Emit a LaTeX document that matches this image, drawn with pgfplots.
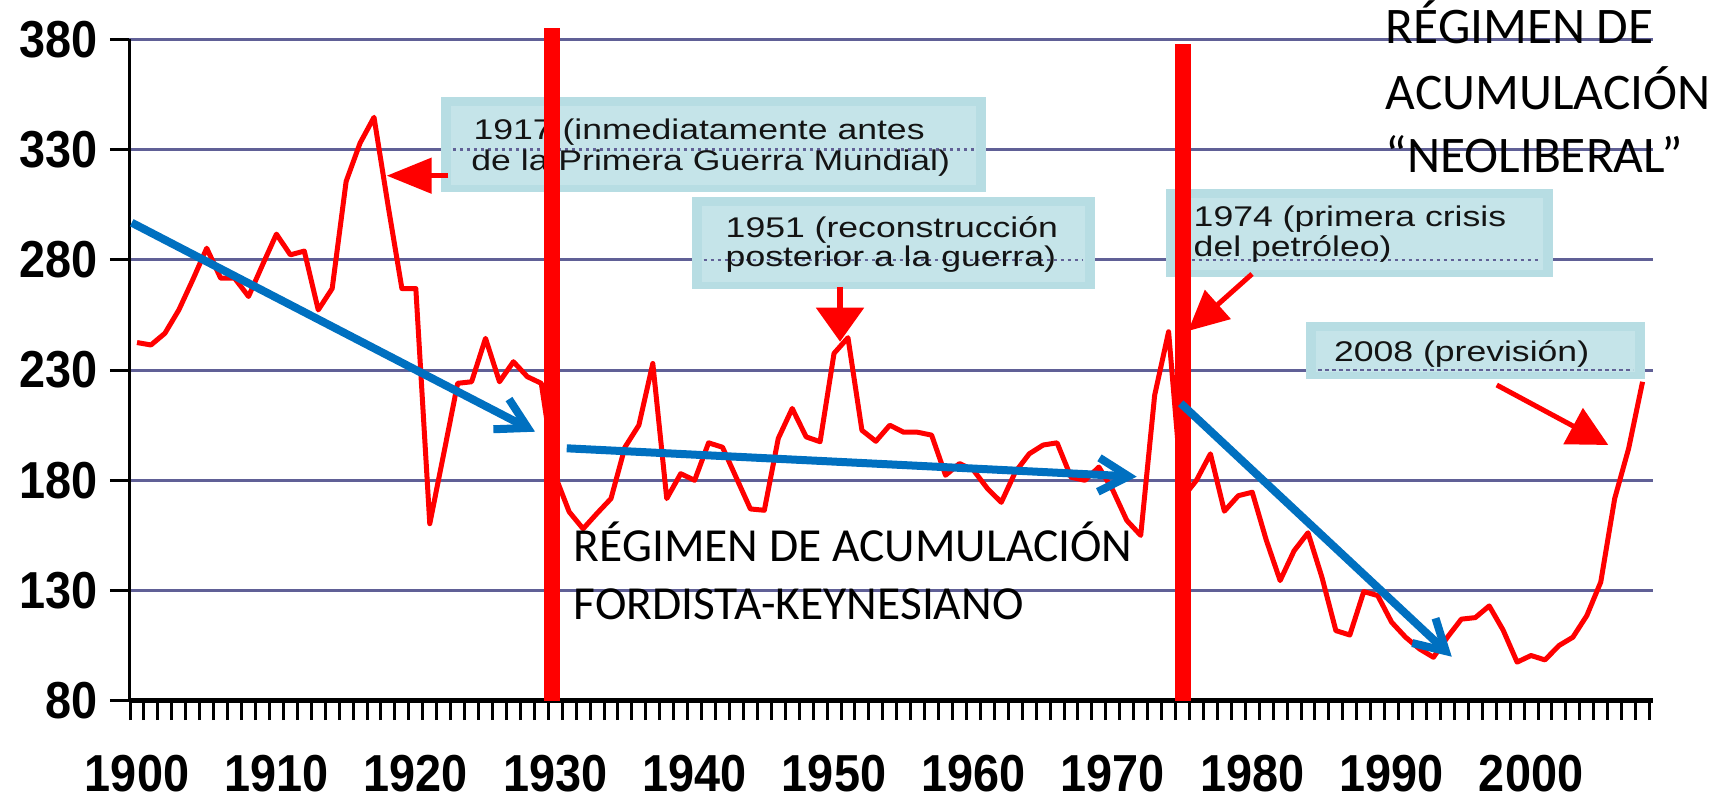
\documentclass[border=0pt]{standalone}
\usepackage{fontspec}
\usepackage{pgfplots}
\pgfplotsset{compat=1.18}
\usetikzlibrary{arrows.meta}
\setmainfont{Liberation Sans}
\newfontfamily\tickfont[FakeStretch=0.9]{Liberation Sans}
\newfontfamily\annfont[FakeStretch=1.25]{Liberation Sans}
\newfontfamily\bigfont{Carlito}
\definecolor{gridc}{RGB}{96,96,150}
\definecolor{arrowblue}{RGB}{0,112,192}
\definecolor{boxout}{RGB}{183,221,227}
\definecolor{boxin}{RGB}{197,228,233}
\newcommand\PX[1]{1900+(#1-137)/13.94}
\newcommand\PY[1]{380-(#1-39.5)/2.204}
\newcommand\annbox[5]{%
  \fill[boxout] (axis cs:{\PX{#1}},{\PY{#2}}) rectangle (axis cs:{\PX{#3}},{\PY{#4}});
  \fill[boxin] (axis cs:{\PX{#1+10}},{\PY{#2+9}}) rectangle (axis cs:{\PX{#3-10}},{\PY{#4-7}});
  \draw[gridc, line width=0.25mm, dash pattern=on 0.35mm off 0.35mm] (axis cs:{\PX{#1+12}},#5) -- (axis cs:{\PX{#3-12}},#5);
}
\begin{document}
\begin{tikzpicture}
\useasboundingbox (0,0) rectangle (172.1mm,80mm);
\begin{axis}[
  at={(12.95mm,9.93mm)}, anchor=south west,
  scale only axis, width=152.35mm, height=66.12mm,
  xmin=1899.46, xmax=2008.75, ymin=80, ymax=380,
  axis x line*=bottom, axis y line*=left,
  x axis line style={line width=0.45mm, black, -},
  y axis line style={line width=0.3mm, black, -},
  ytick={80,130,...,380},
  ymajorgrids, grid style={gridc, line width=0.3mm},
  tick align=outside,
  major tick length=1.95mm,
  ytick style={line width=0.3mm, black},
  xtick={1899.5,1900.5,...,2008.5},
  xticklabels={},
  xtick style={line width=0.3mm, black},
  extra x ticks={1900,1910,...,2000},
  extra x tick labels={1900,1910,1920,1930,1940,1950,1960,1970,1980,1990,2000},
  extra x tick style={tick style={draw=none}, grid=none, xticklabel style={yshift=-2.3mm}},
  ticklabel style={font=\tickfont\bfseries\fontsize{14.8}{14.8}\selectfont},
  /pgf/number format/assume math mode=true,
  clip=false,
]
% data series
\addplot[red, line width=0.5mm, line join=round, mark=none] coordinates {
(1900,242.5) (1901,241.4) (1902,246.7) (1903,257.3) (1904,271) (1905,285.3)
(1906,271.7) (1907,271.7) (1908,263.4) (1909,277.7) (1910,291.7) (1911,282.3)
(1912,284) (1913,257.3) (1914,267) (1915,315.6) (1916,333) (1917,344.7)
(1918,305) (1919,267) (1920,267) (1921,160.3) (1922,192) (1923,224)
(1924,224.7) (1925,244.4) (1926,224.7) (1927,233.8) (1928,227) (1929,224)
(1930,182) (1931,165.7) (1932,158) (1933,165) (1934,171.7) (1935,195)
(1936,205) (1937,233) (1938,171.7) (1939,183) (1940,180) (1941,197)
(1942,195) (1943,181) (1944,167) (1945,166.4) (1946,199) (1947,212.6)
(1948,199.7) (1949,197.5) (1950,237.6) (1951,244.7) (1952,202.7) (1953,197.7)
(1954,205) (1955,201.8) (1956,201.8) (1957,200.5) (1958,182.3) (1959,187.6)
(1960,184.6) (1961,176.3) (1962,170) (1963,183.7) (1964,192) (1965,196)
(1966,197) (1967,181.4) (1968,180) (1969,186) (1970,175.5) (1971,161.8)
(1972,155) (1973,218.6) (1974,247.4) (1975,172) (1976,180) (1977,192)
(1978,166) (1979,173) (1980,174.6) (1981,153) (1982,134.5) (1983,148)
(1984,156.2) (1985,136) (1986,111.8) (1987,109.8) (1988,129.5) (1989,127.7)
(1990,115.6) (1991,108.8) (1992,103.5) (1993,99.7) (1994,108.8) (1995,117)
(1996,117.7) (1997,123) (1998,112) (1999,97.5) (2000,100.5) (2001,98.5)
(2002,105) (2003,108.8) (2004,118.6) (2005,133.8) (2006,171.7) (2007,194.4)
(2008,224.7)};
% annotation boxes
\annbox{440.9}{97.3}{986.2}{191.7}{330}
\annbox{691.7}{196.7}{1095}{289.3}{280}
\annbox{1165.6}{188.8}{1553}{276.6}{280}
\annbox{1306}{321.6}{1645}{379.3}{230}
\begin{scope}[every node/.style={anchor=base west, inner sep=0pt, text=black!92, font=\annfont\fontsize{8.1}{8.1}\selectfont}]
\node at (axis cs:{\PX{472.9}},{\PY{139.5}}) {1917 (inmediatamente antes};
\node at (axis cs:{\PX{470.7}},{\PY{171}}) {de la Primera Guerra Mundial)};
\node at (axis cs:{\PX{725}},{\PY{237.5}}) {1951 (reconstrucción};
\node at (axis cs:{\PX{725}},{\PY{267}}) {posterior a la guerra)};
\node at (axis cs:{\PX{1193}},{\PY{227}}) {1974 (primera crisis};
\node at (axis cs:{\PX{1193}},{\PY{257}}) {del petróleo)};
\node at (axis cs:{\PX{1333.3}},{\PY{362}}) {2008 (previsión)};
\end{scope}
\begin{scope}[every node/.style={anchor=base west, inner sep=0pt, text=black}]
\node[font=\bigfont\fontsize{13.5}{13.5}\selectfont] at (axis cs:{\PX{573}},{\PY{561.7}}) {RÉGIMEN DE ACUMULACIÓN};
\node[font=\bigfont\fontsize{13.5}{13.5}\selectfont] at (axis cs:{\PX{573}},{\PY{620}}) {FORDISTA-KEYNESIANO};
\node[font=\bigfont\fontsize{14.6}{14.6}\selectfont] at (axis cs:{\PX{1385}},{\PY{43.9}}) {RÉGIMEN DE};
\node[font=\bigfont\fontsize{14.6}{14.6}\selectfont] at (axis cs:{\PX{1385}},{\PY{109.8}}) {ACUMULACIÓN};
\node[font=\bigfont\fontsize{14.6}{14.6}\selectfont] at (axis cs:{\PX{1385}},{\PY{172.3}}) {“NEOLIBERAL”};
\end{scope}
% red regime boundaries
\addplot[red, line width=1.6mm, mark=none] coordinates {(1929.8,80) (1929.8,385.2)};
\addplot[red, line width=1.6mm, mark=none] coordinates {(1975,80) (1975,378)};
% blue trend arrows
\draw[arrowblue, line width=0.8mm, -{Straight Barb[length=3mm,width=3.4mm]}] (axis cs:{\PX{131.7}},{\PY{222.7}}) -- (axis cs:{\PX{535}},{\PY{431.7}});
\draw[arrowblue, line width=0.8mm, -{Straight Barb[length=3mm,width=3.4mm]}] (axis cs:{\PX{566.7}},{\PY{448.3}}) -- (axis cs:{\PX{1136.7}},{\PY{476.7}});
\draw[arrowblue, line width=0.8mm, -{Straight Barb[length=3mm,width=3.4mm]}] (axis cs:{\PX{1180.7}},{\PY{403.3}}) -- (axis cs:{\PX{1451.7}},{\PY{656.7}});
% red callout arrows
\draw[red, line width=0.5mm, -{Triangle[length=4.5mm,width=3.5mm]}] (axis cs:{\PX{448.3}},{\PY{175.7}}) -- (axis cs:{\PX{386.7}},{\PY{175.7}});
\draw[red, line width=0.55mm, -{Triangle[length=3.4mm,width=4.7mm]}] (axis cs:{\PX{840}},{\PY{286.7}}) -- (axis cs:{\PX{840}},{\PY{341.7}});
\draw[red, line width=0.5mm, -{Triangle[length=4mm,width=3.8mm]}] (axis cs:{\PX{1252}},{\PY{274}}) -- (axis cs:{\PX{1188}},{\PY{331}});
\draw[red, line width=0.5mm, -{Triangle[length=4mm,width=4mm]}] (axis cs:{\PX{1496.7}},{\PY{385}}) -- (axis cs:{\PX{1608.3}},{\PY{445}});
\end{axis}
\end{tikzpicture}
\end{document}
